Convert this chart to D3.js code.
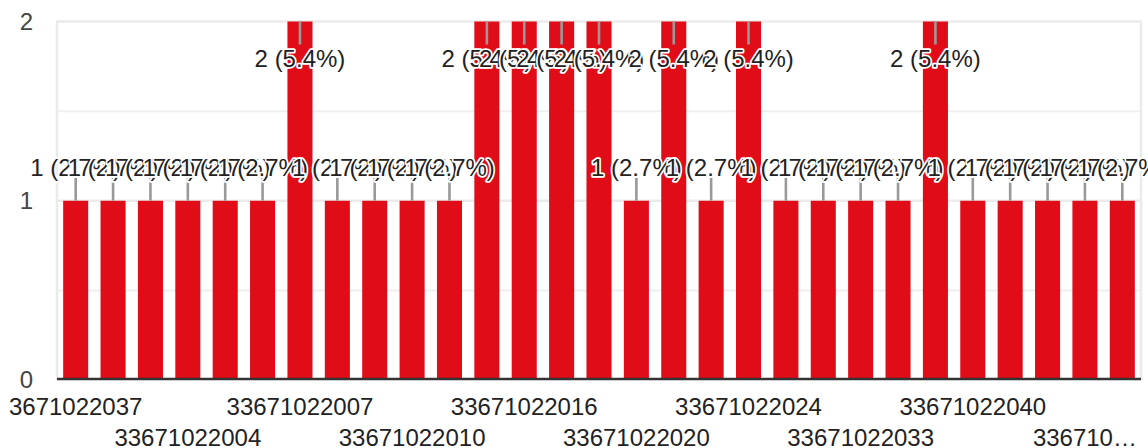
<!DOCTYPE html>
<html>
<head>
<meta charset="utf-8">
<script src="https://cdn.jsdelivr.net/npm/d3@7"></script>
<style>
  html, body { margin: 0; padding: 0; background: #fff; }
  svg { display: block; font-family: "Liberation Sans", Arial, sans-serif; }
</style>
</head>
<body>
<svg id="chart" width="1148" height="448"></svg>
<script>
const categories = [
  "3671022037", "33671022001", "33671022002", "33671022004", "33671022005",
  "33671022006", "33671022007", "33671022008", "33671022009", "33671022010",
  "33671022012", "33671022014", "33671022016", "33671022017", "33671022018",
  "33671022020", "33671022021", "33671022022", "33671022024", "33671022027",
  "33671022030", "33671022033", "33671022035", "33671022038", "33671022040",
  "33671022041", "33671022043", "33671022045", "33671022047"
];
const counts = [1,1,1,1,1,1,2,1,1,1,1,2,2,2,2,1,2,1,2,1,1,1,1,2,1,1,1,1,1];
const yTicks = [0, 1, 2];
const yMinorTicks = [0.5, 1.5];

(function () {
const plotL = 57, plotR = 1141, plotT = 21.5, plotB = 380;
const total = d3.sum(counts);
const data = categories.map((c, i) => ({ cat: c, v: counts[i], i }));

const svg = d3.select("#chart");

const x = d3.scaleBand().domain(categories).range([plotL, plotR])
  .paddingInner(0.33).paddingOuter(0.165);
const y = d3.scaleLinear().domain([0, 2]).range([plotB, plotT]);

// grid + frame
const grid = svg.append("g");
grid.selectAll("line.minor").data(yMinorTicks).join("line")
  .attr("class", "minor")
  .attr("x1", plotL).attr("x2", plotR)
  .attr("y1", d => y(d)).attr("y2", d => y(d))
  .attr("stroke", "#efefef").attr("stroke-width", 2);
grid.selectAll("line.major").data(yTicks.filter(d => d > 0)).join("line")
  .attr("class", "major")
  .attr("x1", plotL - 1).attr("x2", plotR + 1)
  .attr("y1", d => y(d)).attr("y2", d => y(d))
  .attr("stroke", "#ebebeb").attr("stroke-width", 2.5);
grid.selectAll("line.frame").data([plotL, plotR]).join("line")
  .attr("class", "frame")
  .attr("x1", d => d).attr("x2", d => d)
  .attr("y1", plotT).attr("y2", plotB)
  .attr("stroke", "#ebebeb").attr("stroke-width", 2.5);

// y tick labels
svg.append("g").selectAll("text").data(yTicks).join("text")
  .attr("x", 33).attr("y", d => y(d)).attr("dy", "0.35em")
  .attr("text-anchor", "end")
  .attr("font-size", 24).attr("fill", "#444")
  .text(d => d);

// bars
svg.append("g").selectAll("rect").data(data).join("rect")
  .attr("x", d => x(d.cat)).attr("width", x.bandwidth())
  .attr("y", d => y(d.v)).attr("height", d => y(0) - y(d.v))
  .attr("fill", "#e00c18");

// baseline
svg.append("line")
  .attr("x1", plotL).attr("x2", plotR)
  .attr("y1", y(0) - 1).attr("y2", y(0) - 1)
  .attr("stroke", "#333").attr("stroke-width", 2.6);

// annotation stems
const stemLen = 23;
function flipped(d) { return y(d.v) - stemLen - 20 < plotT; }
svg.append("g").selectAll("line").data(data).join("line")
  .attr("x1", d => x(d.cat) + x.bandwidth() / 2)
  .attr("x2", d => x(d.cat) + x.bandwidth() / 2)
  .attr("y1", d => y(d.v))
  .attr("y2", d => flipped(d) ? y(d.v) + stemLen : y(d.v) - stemLen)
  .attr("stroke", "#999").attr("stroke-width", 2.6);

// annotation labels
const lbl = svg.append("g");
data.forEach(d => {
  const cx = x(d.cat) + x.bandwidth() / 2;
  const by = flipped(d) ? y(d.v) + stemLen + 22.5 : y(d.v) - stemLen - 1.5;
  lbl.append("text")
    .attr("x", cx).attr("y", by)
    .attr("text-anchor", "middle")
    .attr("font-size", 24).attr("fill", "#222")
    .attr("stroke", "#fff").attr("stroke-width", 3.5)
    .attr("stroke-linejoin", "round")
    .attr("paint-order", "stroke")
    .text(`${d.v} (${(d.v / total * 100).toFixed(1)}%)`);
});

// x labels (every third, alternating rows)
const xl = svg.append("g");
const maxRight = 1141;
data.filter(d => d.i % 3 === 0).forEach(d => {
  const row = (d.i / 3) % 2;
  const cx = x(d.cat) + x.bandwidth() / 2;
  const t = xl.append("text")
    .attr("x", cx).attr("y", 415 + row * 31)
    .attr("text-anchor", "middle")
    .attr("font-size", 24).attr("fill", "#222")
    .text(d.cat);
  let s = d.cat;
  let w = t.node().getComputedTextLength();
  if (cx + w / 2 > maxRight) {
    while (s.length > 1) {
      s = s.slice(0, -1);
      t.text(s + "\u2026");
      w = t.node().getComputedTextLength();
      if (cx + w / 2 <= maxRight) break;
    }
  }
});
})();
</script>
</body>
</html>
